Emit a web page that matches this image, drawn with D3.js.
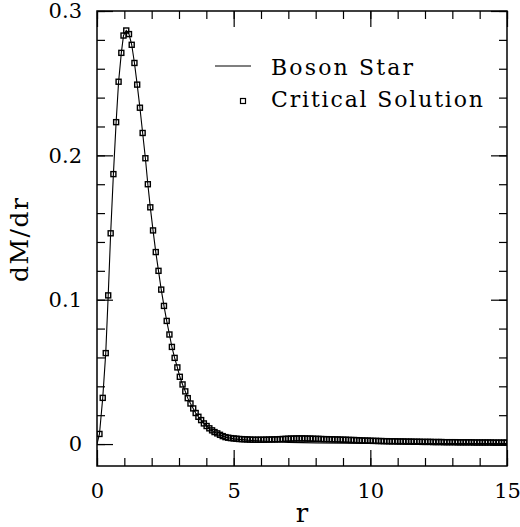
<!DOCTYPE html>
<html>
<head>
<meta charset="utf-8">
<script src="https://cdn.jsdelivr.net/npm/d3@7"></script>
<style>
  body { margin: 0; background: #fff; }
  svg { display: block; }
  text { font-family: "DejaVu Serif", serif; fill: #000; }
</style>
</head>
<body>
<svg width="520" height="527"></svg>
<script>
// critical solution, square markers
var critR = [
  0.09, 0.21, 0.32, 0.41, 0.50, 0.60, 0.70, 0.79, 0.89, 0.97,
  1.07, 1.17, 1.27, 1.37, 1.47, 1.57, 1.67, 1.77, 1.86, 1.95,
  2.05, 2.15, 2.25, 2.35, 2.45, 2.55, 2.65, 2.74, 2.84, 2.94,
  3.03, 3.13, 3.23, 3.32, 3.42, 3.52, 3.61, 3.71, 3.81, 3.91,
  4.01, 4.11, 4.21, 4.30, 4.40, 4.50, 4.60, 4.70,
  4.8, 4.9, 5.0, 5.1, 5.2, 5.3, 5.4, 5.5, 5.6, 5.7,
  5.8, 5.9, 6.0, 6.1, 6.2, 6.3, 6.4, 6.5, 6.6, 6.7,
  6.8, 6.9, 7.0, 7.1, 7.2, 7.3, 7.4, 7.5, 7.6, 7.7,
  7.8, 7.9, 8.0, 8.1, 8.2, 8.3, 8.4, 8.5, 8.6, 8.7,
  8.8, 8.9, 9.0, 9.1, 9.2, 9.3, 9.4, 9.5, 9.6, 9.7,
  9.8, 9.9, 10.0, 10.1, 10.2, 10.3, 10.4, 10.5, 10.6, 10.7,
  10.8, 10.9, 11.0, 11.1, 11.2, 11.3, 11.4, 11.5, 11.6, 11.7,
  11.8, 11.9, 12.0, 12.1, 12.2, 12.3, 12.4, 12.5, 12.6, 12.7,
  12.8, 12.9, 13.0, 13.1, 13.2, 13.3, 13.4, 13.5, 13.6, 13.7,
  13.8, 13.9, 14.0, 14.1, 14.2, 14.3, 14.4, 14.5, 14.6, 14.7,
  14.8, 14.9, 15.0
];
var critV = [
  0.007, 0.032, 0.063, 0.103, 0.146, 0.187, 0.223, 0.251, 0.271, 0.283,
  0.2865, 0.284, 0.2766, 0.264, 0.249, 0.233, 0.2155, 0.198, 0.180, 0.164,
  0.148, 0.133, 0.120, 0.107, 0.0957, 0.0853, 0.0759, 0.0673, 0.0597, 0.0531,
  0.0466, 0.0413, 0.0365, 0.0318, 0.0281, 0.0247, 0.0215, 0.0189, 0.0166, 0.0143,
  0.0125, 0.0109, 0.0095, 0.0083, 0.0074, 0.0064, 0.0055, 0.0048,
  0.0044, 0.0041, 0.0039, 0.0037, 0.0035, 0.0034, 0.0033, 0.0032, 0.0031, 0.0030,
  0.0030, 0.0030, 0.0030, 0.0030, 0.0031, 0.0031, 0.0032, 0.0032, 0.0033, 0.0034,
  0.0035, 0.0036, 0.0037, 0.0038, 0.0038, 0.0039, 0.0039, 0.0039, 0.0039, 0.0038,
  0.0038, 0.0037, 0.0036, 0.0036, 0.0035, 0.0034, 0.0034, 0.0033, 0.0033, 0.0032,
  0.0032, 0.0031, 0.0030, 0.0030, 0.0029, 0.0028, 0.0028, 0.0027, 0.0026, 0.0025,
  0.0024, 0.0024, 0.0023, 0.0022, 0.0022, 0.0021, 0.0021, 0.0020, 0.0020, 0.0019,
  0.0019, 0.0019, 0.0018, 0.0018, 0.0018, 0.0017, 0.0017, 0.0017, 0.0016, 0.0016,
  0.0016, 0.0015, 0.0015, 0.0015, 0.0015, 0.0014, 0.0014, 0.0014, 0.0014, 0.0013,
  0.0013, 0.0013, 0.0013, 0.0013, 0.0012, 0.0012, 0.0012, 0.0012, 0.0012, 0.0012,
  0.0011, 0.0011, 0.0011, 0.0011, 0.0011, 0.0011, 0.0011, 0.0010, 0.0010, 0.0010,
  0.0010, 0.0010, 0.0010
];

// boson star, solid line
var bosonR = [
  0, 0.09, 0.21, 0.32, 0.41, 0.50, 0.60, 0.70, 0.79, 0.89, 0.97,
  1.07, 1.17, 1.27, 1.37, 1.47, 1.57, 1.67, 1.77, 1.86, 1.95,
  2.05, 2.15, 2.25, 2.35, 2.45, 2.55, 2.65, 2.74, 2.84, 2.94,
  3.03, 3.13, 3.23, 3.32, 3.42, 3.52, 3.61, 3.71, 3.81, 3.91,
  4.01, 4.11, 4.21, 4.30, 4.40, 4.50, 4.60, 4.70,
  5.0, 5.5, 6.0, 6.5, 7.0, 8.0, 9.0, 10.0, 12.0, 15.0
];
var bosonV = [
  0, 0.007, 0.032, 0.063, 0.103, 0.146, 0.187, 0.223, 0.251, 0.271, 0.283,
  0.2865, 0.284, 0.2766, 0.264, 0.249, 0.233, 0.2155, 0.198, 0.180, 0.164,
  0.148, 0.133, 0.120, 0.107, 0.0957, 0.0853, 0.0759, 0.0673, 0.0597, 0.0531,
  0.0466, 0.0413, 0.0365, 0.0318, 0.0281, 0.0247, 0.0215, 0.0189, 0.0166, 0.0143,
  0.0125, 0.0109, 0.0095, 0.0083, 0.0074, 0.0064, 0.0055, 0.0048,
  0.0036, 0.0027, 0.0021, 0.0016, 0.0012, 0.0008, 0.0006, 0.0005, 0.0004, 0.0003
];

var xMajor = [0, 5, 10, 15];
var xMinor = [0, 1, 2, 3, 4, 5, 6, 7, 8, 9, 10, 11, 12, 13, 14, 15];
var yMajor = [0, 0.1, 0.2, 0.3];
var yMinor = [0, 0.02, 0.04, 0.06, 0.08, 0.1, 0.12, 0.14, 0.16, 0.18, 0.2, 0.22, 0.24, 0.26, 0.28, 0.3];

var svg = d3.select('svg'),
  w = +svg.attr('width'),
  h = +svg.attr('height'),
  m = {top: 11, right: 13, bottom: 61, left: 97},
  pw = w - m.left - m.right,
  ph = h - m.top - m.bottom;

var x = d3.scaleLinear().domain([0, 15]).range([0, pw]);
var y = d3.scaleLinear().domain([-0.0152, 0.3]).range([ph, 0]);

var g = svg.append('g').attr('transform', 'translate(' + m.left + ',' + m.top + ')');

svg.append('defs').append('clipPath').attr('id', 'clip')
  .append('rect').attr('width', pw).attr('height', ph);

var yFmt = function(d) { return d === 0 ? '0' : d3.format('.1f')(d); };

// ticks on all four sides, pointing inward
function ticks(axis, vals, size, tx, ty, fmt, pad) {
  var a = g.append('g').attr('transform', 'translate(' + tx + ',' + ty + ')')
    .call(axis.tickValues(vals).tickSize(size).tickPadding(pad || 3)
      .tickFormat(fmt || function() { return ''; }));
  a.select('.domain').remove();
  a.selectAll('line').attr('stroke', '#000').attr('stroke-width', 1.2);
  a.selectAll('text').style('font-family', '"DejaVu Serif", serif').style('font-size', '21px').attr('fill', '#000');
  return a;
}
ticks(d3.axisBottom(x), xMinor, -8, 0, ph);
ticks(d3.axisBottom(x), xMajor, -16, 0, ph, function(d) { return d; }, 17);
ticks(d3.axisBottom(x), xMinor, 8, 0, 0);
ticks(d3.axisBottom(x), xMajor, 16, 0, 0);
ticks(d3.axisLeft(y), yMinor, -8, 0, 0);
ticks(d3.axisLeft(y), yMajor, -16, 0, 0, yFmt, 15);
ticks(d3.axisLeft(y), yMinor, 8, pw, 0);
ticks(d3.axisLeft(y), yMajor, 16, pw, 0);

var plot = g.append('g').attr('clip-path', 'url(#clip)');

var line = d3.line()
  .x(function(d, i) { return x(bosonR[i]); })
  .y(function(d) { return y(d); });

plot.append('path')
  .datum(bosonV)
  .attr('d', line)
  .attr('fill', 'none')
  .attr('stroke', '#000')
  .attr('stroke-width', 1.1);

plot.selectAll('rect.pt')
  .data(critV)
  .enter().append('rect')
  .attr('class', 'pt')
  .attr('x', function(d, i) { return x(critR[i]) - 2.5; })
  .attr('y', function(d) { return y(d) - 2.5; })
  .attr('width', 5)
  .attr('height', 5)
  .attr('fill', 'none')
  .attr('stroke', '#000')
  .attr('stroke-width', 1.4);

// frame
g.append('rect')
  .attr('width', pw).attr('height', ph)
  .attr('fill', 'none').attr('stroke', '#000').attr('stroke-width', 1.5);

// legend
var lg = svg.append('g');
lg.append('line')
  .attr('x1', 215).attr('x2', 251).attr('y1', 66).attr('y2', 66)
  .attr('stroke', '#000').attr('stroke-width', 1.2);
lg.append('text').attr('x', 271).attr('y', 75)
  .attr('textLength', 142).attr('lengthAdjust', 'spacing')
  .style('font-size', '22px').text('Boson Star');
lg.append('rect')
  .attr('x', 240.5).attr('y', 98.5).attr('width', 5).attr('height', 5)
  .attr('fill', 'none').attr('stroke', '#000').attr('stroke-width', 1.2);
lg.append('text').attr('x', 271).attr('y', 107)
  .attr('textLength', 212).attr('lengthAdjust', 'spacing')
  .style('font-size', '22px').text('Critical Solution');

// axis titles
svg.append('text')
  .attr('x', 302).attr('y', 522)
  .attr('text-anchor', 'middle')
  .style('font-size', '26px')
  .text('r');
svg.append('text')
  .attr('transform', 'translate(28,240) rotate(-90)')
  .attr('text-anchor', 'middle')
  .attr('textLength', 84).attr('lengthAdjust', 'spacing')
  .style('font-size', '25px')
  .text('dM/dr');
</script>
</body>
</html>
